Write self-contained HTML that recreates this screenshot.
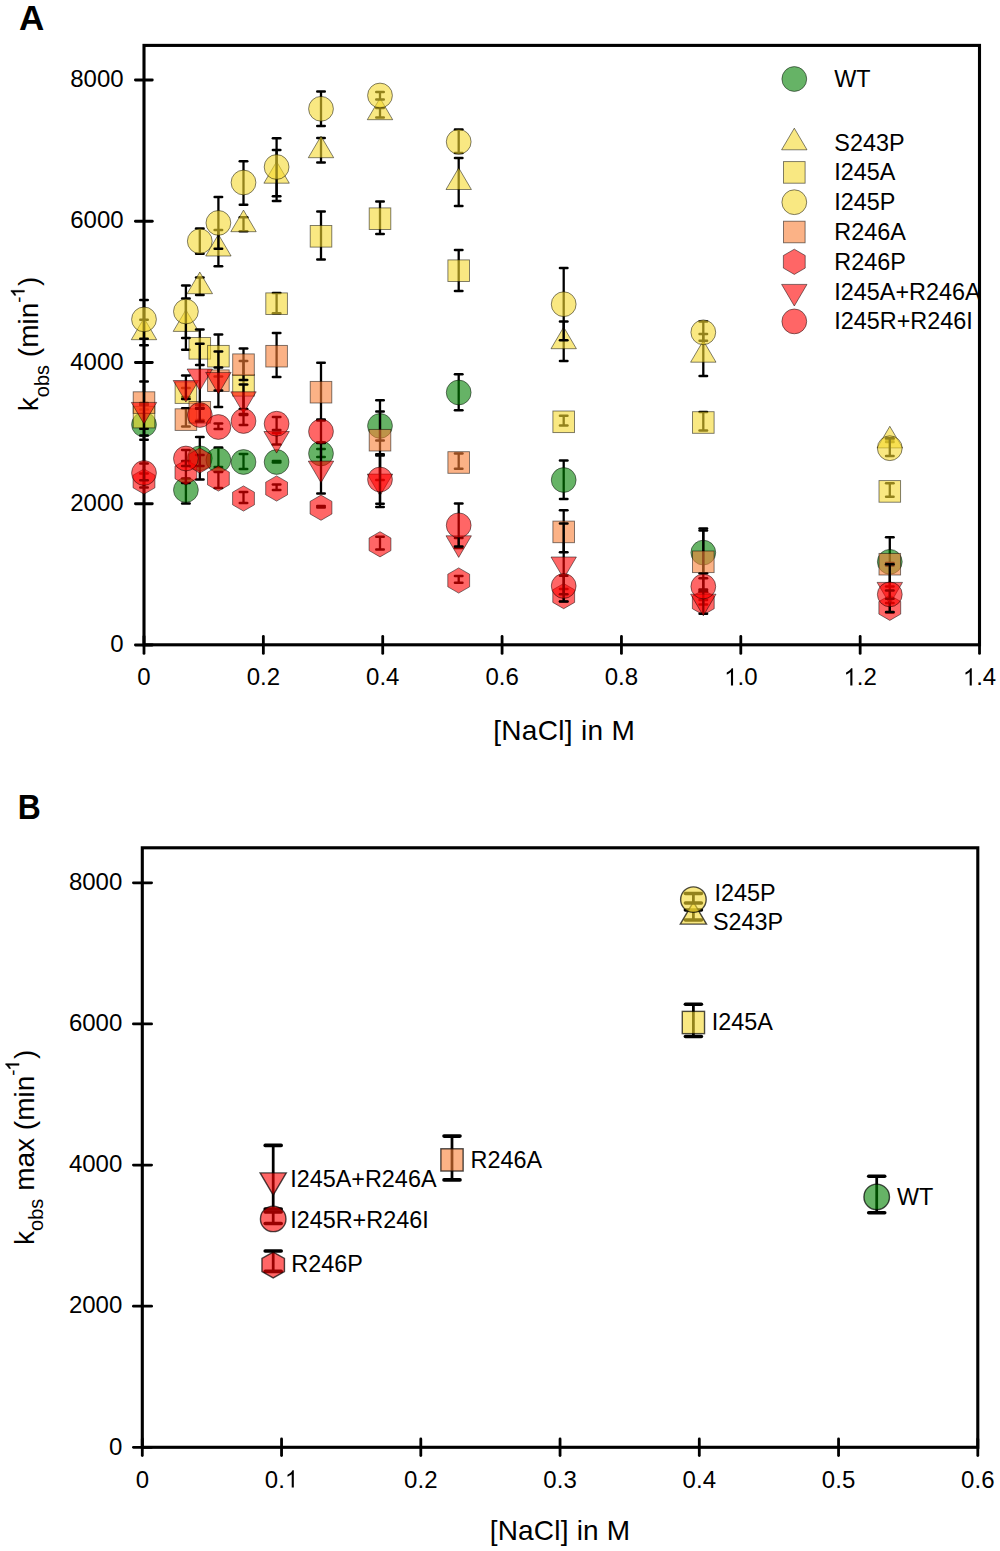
<!DOCTYPE html>
<html><head><meta charset="utf-8"><title>Figure</title><style>html,body{margin:0;padding:0;background:#fff;}body{width:1000px;height:1551px;overflow:hidden;font-family:"Liberation Sans",sans-serif;}svg{display:block;}</style></head><body>
<svg width="1000" height="1551" viewBox="0 0 1000 1551" font-family='&quot;Liberation Sans&quot;, sans-serif' fill="#000"><rect x="144.00" y="45.40" width="835.50" height="599.40" fill="none" stroke="#000" stroke-width="3.1"/>
<line x1="135.4" y1="645.00" x2="152.3" y2="645.00" stroke="#000" stroke-width="2.8" stroke-linecap="round"/>
<text x="123.60" y="652.20" font-size="24.00" text-anchor="end" font-weight="normal" >0</text>
<line x1="135.4" y1="503.75" x2="152.3" y2="503.75" stroke="#000" stroke-width="2.8" stroke-linecap="round"/>
<text x="123.60" y="510.95" font-size="24.00" text-anchor="end" font-weight="normal" >2000</text>
<line x1="135.4" y1="362.50" x2="152.3" y2="362.50" stroke="#000" stroke-width="2.8" stroke-linecap="round"/>
<text x="123.60" y="369.70" font-size="24.00" text-anchor="end" font-weight="normal" >4000</text>
<line x1="135.4" y1="221.25" x2="152.3" y2="221.25" stroke="#000" stroke-width="2.8" stroke-linecap="round"/>
<text x="123.60" y="228.45" font-size="24.00" text-anchor="end" font-weight="normal" >6000</text>
<line x1="135.4" y1="80.00" x2="152.3" y2="80.00" stroke="#000" stroke-width="2.8" stroke-linecap="round"/>
<text x="123.60" y="87.20" font-size="24.00" text-anchor="end" font-weight="normal" >8000</text>
<line x1="144.00" y1="636.4" x2="144.00" y2="653.4" stroke="#000" stroke-width="2.8" stroke-linecap="round"/>
<text x="137.33" y="685.40" font-size="24.00" >0</text>
<line x1="263.36" y1="636.4" x2="263.36" y2="653.4" stroke="#000" stroke-width="2.8" stroke-linecap="round"/>
<text x="246.68" y="685.40" font-size="24.00" >0.2</text>
<line x1="382.72" y1="636.4" x2="382.72" y2="653.4" stroke="#000" stroke-width="2.8" stroke-linecap="round"/>
<text x="366.04" y="685.40" font-size="24.00" >0.4</text>
<line x1="502.08" y1="636.4" x2="502.08" y2="653.4" stroke="#000" stroke-width="2.8" stroke-linecap="round"/>
<text x="485.40" y="685.40" font-size="24.00" >0.6</text>
<line x1="621.44" y1="636.4" x2="621.44" y2="653.4" stroke="#000" stroke-width="2.8" stroke-linecap="round"/>
<text x="604.76" y="685.40" font-size="24.00" >0.8</text>
<line x1="740.80" y1="636.4" x2="740.80" y2="653.4" stroke="#000" stroke-width="2.8" stroke-linecap="round"/>
<path transform="translate(724.12,685.40) scale(0.011719,-0.011719)" d="M763 0L583 0L583 1147Q518 1085 412.5 1023Q307 961 223 930L223 1104Q374 1175 487 1276Q600 1377 647 1472L763 1472Z"/><text x="737.47" y="685.40" font-size="24.00" >.0</text>
<line x1="860.16" y1="636.4" x2="860.16" y2="653.4" stroke="#000" stroke-width="2.8" stroke-linecap="round"/>
<path transform="translate(843.48,685.40) scale(0.011719,-0.011719)" d="M763 0L583 0L583 1147Q518 1085 412.5 1023Q307 961 223 930L223 1104Q374 1175 487 1276Q600 1377 647 1472L763 1472Z"/><text x="856.83" y="685.40" font-size="24.00" >.2</text>
<line x1="979.52" y1="636.4" x2="979.52" y2="653.4" stroke="#000" stroke-width="2.8" stroke-linecap="round"/>
<path transform="translate(962.84,685.40) scale(0.011719,-0.011719)" d="M763 0L583 0L583 1147Q518 1085 412.5 1023Q307 961 223 930L223 1104Q374 1175 487 1276Q600 1377 647 1472L763 1472Z"/><text x="976.19" y="685.40" font-size="24.00" >.4</text>
<text x="564.20" y="740.30" font-size="28.00" text-anchor="middle" font-weight="normal" letter-spacing="0.33">[NaCl] in M</text>
<g transform="translate(38.3,411.2) rotate(-90)"><text x="0.00" y="0.00" font-size="28.00" >k</text><text x="14.00" y="10.20" font-size="20.00" >obs</text><text x="46.25" y="0.00" font-size="28.00" >&#160;(min</text><text x="108.47" y="-13.66" font-size="18.60" >-</text><path transform="translate(113.86,-13.95) scale(0.009082,-0.009082)" stroke="#000" stroke-width="55.1" d="M763 0L583 0L583 1147Q518 1085 412.5 1023Q307 961 223 930L223 1104Q374 1175 487 1276Q600 1377 647 1472L763 1472Z"/><text x="125.21" y="0.00" font-size="28.00" >)</text></g>
<text x="19.00" y="30.00" font-size="35.00" text-anchor="start" font-weight="bold" >A</text>
<line x1="144.00" y1="409.40" x2="144.00" y2="439.80" stroke="#000" stroke-width="2.30"/><line x1="140.25" y1="409.40" x2="147.75" y2="409.40" stroke="#000" stroke-width="2.50" stroke-linecap="round"/><line x1="140.25" y1="439.80" x2="147.75" y2="439.80" stroke="#000" stroke-width="2.50" stroke-linecap="round"/>
<line x1="185.90" y1="478.50" x2="185.90" y2="503.50" stroke="#000" stroke-width="2.30"/><line x1="182.15" y1="478.50" x2="189.65" y2="478.50" stroke="#000" stroke-width="2.50" stroke-linecap="round"/><line x1="182.15" y1="503.50" x2="189.65" y2="503.50" stroke="#000" stroke-width="2.50" stroke-linecap="round"/>
<line x1="199.80" y1="437.00" x2="199.80" y2="479.50" stroke="#000" stroke-width="2.30"/><line x1="196.05" y1="437.00" x2="203.55" y2="437.00" stroke="#000" stroke-width="2.50" stroke-linecap="round"/><line x1="196.05" y1="479.50" x2="203.55" y2="479.50" stroke="#000" stroke-width="2.50" stroke-linecap="round"/>
<line x1="218.40" y1="447.50" x2="218.40" y2="467.00" stroke="#000" stroke-width="2.30"/><line x1="214.65" y1="447.50" x2="222.15" y2="447.50" stroke="#000" stroke-width="2.50" stroke-linecap="round"/><line x1="214.65" y1="467.00" x2="222.15" y2="467.00" stroke="#000" stroke-width="2.50" stroke-linecap="round"/>
<line x1="243.50" y1="454.00" x2="243.50" y2="469.00" stroke="#000" stroke-width="2.30"/><line x1="239.75" y1="454.00" x2="247.25" y2="454.00" stroke="#000" stroke-width="2.50" stroke-linecap="round"/><line x1="239.75" y1="469.00" x2="247.25" y2="469.00" stroke="#000" stroke-width="2.50" stroke-linecap="round"/>
<line x1="276.60" y1="461.00" x2="276.60" y2="462.50" stroke="#000" stroke-width="2.30"/><line x1="272.85" y1="461.00" x2="280.35" y2="461.00" stroke="#000" stroke-width="2.50" stroke-linecap="round"/><line x1="272.85" y1="462.50" x2="280.35" y2="462.50" stroke="#000" stroke-width="2.50" stroke-linecap="round"/>
<line x1="321.00" y1="449.00" x2="321.00" y2="457.00" stroke="#000" stroke-width="2.30"/><line x1="317.25" y1="449.00" x2="324.75" y2="449.00" stroke="#000" stroke-width="2.50" stroke-linecap="round"/><line x1="317.25" y1="457.00" x2="324.75" y2="457.00" stroke="#000" stroke-width="2.50" stroke-linecap="round"/>
<line x1="380.00" y1="411.40" x2="380.00" y2="440.40" stroke="#000" stroke-width="2.30"/><line x1="376.25" y1="411.40" x2="383.75" y2="411.40" stroke="#000" stroke-width="2.50" stroke-linecap="round"/><line x1="376.25" y1="440.40" x2="383.75" y2="440.40" stroke="#000" stroke-width="2.50" stroke-linecap="round"/>
<line x1="458.70" y1="374.20" x2="458.70" y2="410.30" stroke="#000" stroke-width="2.30"/><line x1="454.95" y1="374.20" x2="462.45" y2="374.20" stroke="#000" stroke-width="2.50" stroke-linecap="round"/><line x1="454.95" y1="410.30" x2="462.45" y2="410.30" stroke="#000" stroke-width="2.50" stroke-linecap="round"/>
<line x1="563.70" y1="460.40" x2="563.70" y2="498.90" stroke="#000" stroke-width="2.30"/><line x1="559.95" y1="460.40" x2="567.45" y2="460.40" stroke="#000" stroke-width="2.50" stroke-linecap="round"/><line x1="559.95" y1="498.90" x2="567.45" y2="498.90" stroke="#000" stroke-width="2.50" stroke-linecap="round"/>
<line x1="703.30" y1="528.40" x2="703.30" y2="573.30" stroke="#000" stroke-width="2.30"/><line x1="699.55" y1="528.40" x2="707.05" y2="528.40" stroke="#000" stroke-width="2.50" stroke-linecap="round"/><line x1="699.55" y1="573.30" x2="707.05" y2="573.30" stroke="#000" stroke-width="2.50" stroke-linecap="round"/>
<line x1="889.80" y1="537.20" x2="889.80" y2="586.40" stroke="#000" stroke-width="2.30"/><line x1="886.05" y1="537.20" x2="893.55" y2="537.20" stroke="#000" stroke-width="2.50" stroke-linecap="round"/><line x1="886.05" y1="586.40" x2="893.55" y2="586.40" stroke="#000" stroke-width="2.50" stroke-linecap="round"/>
<circle cx="144.00" cy="424.60" r="12.40" fill="rgb(0,128,0)" fill-opacity="0.60" stroke="rgba(0,0,0,0.55)" stroke-width="0.90"/>
<circle cx="185.90" cy="490.00" r="12.40" fill="rgb(0,128,0)" fill-opacity="0.60" stroke="rgba(0,0,0,0.55)" stroke-width="0.90"/>
<circle cx="199.80" cy="458.30" r="12.40" fill="rgb(0,128,0)" fill-opacity="0.60" stroke="rgba(0,0,0,0.55)" stroke-width="0.90"/>
<circle cx="218.40" cy="460.00" r="12.40" fill="rgb(0,128,0)" fill-opacity="0.60" stroke="rgba(0,0,0,0.55)" stroke-width="0.90"/>
<circle cx="243.50" cy="462.00" r="12.40" fill="rgb(0,128,0)" fill-opacity="0.60" stroke="rgba(0,0,0,0.55)" stroke-width="0.90"/>
<circle cx="276.60" cy="462.00" r="12.40" fill="rgb(0,128,0)" fill-opacity="0.60" stroke="rgba(0,0,0,0.55)" stroke-width="0.90"/>
<circle cx="321.00" cy="453.50" r="12.40" fill="rgb(0,128,0)" fill-opacity="0.60" stroke="rgba(0,0,0,0.55)" stroke-width="0.90"/>
<circle cx="380.00" cy="425.90" r="12.40" fill="rgb(0,128,0)" fill-opacity="0.60" stroke="rgba(0,0,0,0.55)" stroke-width="0.90"/>
<circle cx="458.70" cy="392.50" r="12.40" fill="rgb(0,128,0)" fill-opacity="0.60" stroke="rgba(0,0,0,0.55)" stroke-width="0.90"/>
<circle cx="563.70" cy="480.00" r="12.40" fill="rgb(0,128,0)" fill-opacity="0.60" stroke="rgba(0,0,0,0.55)" stroke-width="0.90"/>
<circle cx="703.30" cy="552.60" r="12.40" fill="rgb(0,128,0)" fill-opacity="0.60" stroke="rgba(0,0,0,0.55)" stroke-width="0.90"/>
<circle cx="889.80" cy="561.80" r="12.40" fill="rgb(0,128,0)" fill-opacity="0.60" stroke="rgba(0,0,0,0.55)" stroke-width="0.90"/>
<line x1="144.00" y1="319.80" x2="144.00" y2="345.20" stroke="#000" stroke-width="2.30"/><line x1="140.25" y1="319.80" x2="147.75" y2="319.80" stroke="#000" stroke-width="2.50" stroke-linecap="round"/><line x1="140.25" y1="345.20" x2="147.75" y2="345.20" stroke="#000" stroke-width="2.50" stroke-linecap="round"/>
<line x1="185.90" y1="298.60" x2="185.90" y2="349.70" stroke="#000" stroke-width="2.30"/><line x1="182.15" y1="298.60" x2="189.65" y2="298.60" stroke="#000" stroke-width="2.50" stroke-linecap="round"/><line x1="182.15" y1="349.70" x2="189.65" y2="349.70" stroke="#000" stroke-width="2.50" stroke-linecap="round"/>
<line x1="199.80" y1="277.50" x2="199.80" y2="295.00" stroke="#000" stroke-width="2.30"/><line x1="196.05" y1="277.50" x2="203.55" y2="277.50" stroke="#000" stroke-width="2.50" stroke-linecap="round"/><line x1="196.05" y1="295.00" x2="203.55" y2="295.00" stroke="#000" stroke-width="2.50" stroke-linecap="round"/>
<line x1="218.40" y1="230.00" x2="218.40" y2="266.30" stroke="#000" stroke-width="2.30"/><line x1="214.65" y1="230.00" x2="222.15" y2="230.00" stroke="#000" stroke-width="2.50" stroke-linecap="round"/><line x1="214.65" y1="266.30" x2="222.15" y2="266.30" stroke="#000" stroke-width="2.50" stroke-linecap="round"/>
<line x1="243.50" y1="217.30" x2="243.50" y2="231.30" stroke="#000" stroke-width="2.30"/><line x1="239.75" y1="217.30" x2="247.25" y2="217.30" stroke="#000" stroke-width="2.50" stroke-linecap="round"/><line x1="239.75" y1="231.30" x2="247.25" y2="231.30" stroke="#000" stroke-width="2.50" stroke-linecap="round"/>
<line x1="276.60" y1="150.10" x2="276.60" y2="200.90" stroke="#000" stroke-width="2.30"/><line x1="272.85" y1="150.10" x2="280.35" y2="150.10" stroke="#000" stroke-width="2.50" stroke-linecap="round"/><line x1="272.85" y1="200.90" x2="280.35" y2="200.90" stroke="#000" stroke-width="2.50" stroke-linecap="round"/>
<line x1="321.00" y1="138.00" x2="321.00" y2="162.40" stroke="#000" stroke-width="2.30"/><line x1="317.25" y1="138.00" x2="324.75" y2="138.00" stroke="#000" stroke-width="2.50" stroke-linecap="round"/><line x1="317.25" y1="162.40" x2="324.75" y2="162.40" stroke="#000" stroke-width="2.50" stroke-linecap="round"/>
<line x1="380.00" y1="108.00" x2="380.00" y2="117.60" stroke="#000" stroke-width="2.30"/><line x1="376.25" y1="108.00" x2="383.75" y2="108.00" stroke="#000" stroke-width="2.50" stroke-linecap="round"/><line x1="376.25" y1="117.60" x2="383.75" y2="117.60" stroke="#000" stroke-width="2.50" stroke-linecap="round"/>
<line x1="458.70" y1="158.00" x2="458.70" y2="206.00" stroke="#000" stroke-width="2.30"/><line x1="454.95" y1="158.00" x2="462.45" y2="158.00" stroke="#000" stroke-width="2.50" stroke-linecap="round"/><line x1="454.95" y1="206.00" x2="462.45" y2="206.00" stroke="#000" stroke-width="2.50" stroke-linecap="round"/>
<line x1="563.70" y1="321.60" x2="563.70" y2="361.00" stroke="#000" stroke-width="2.30"/><line x1="559.95" y1="321.60" x2="567.45" y2="321.60" stroke="#000" stroke-width="2.50" stroke-linecap="round"/><line x1="559.95" y1="361.00" x2="567.45" y2="361.00" stroke="#000" stroke-width="2.50" stroke-linecap="round"/>
<line x1="703.30" y1="334.00" x2="703.30" y2="376.00" stroke="#000" stroke-width="2.30"/><line x1="699.55" y1="334.00" x2="707.05" y2="334.00" stroke="#000" stroke-width="2.50" stroke-linecap="round"/><line x1="699.55" y1="376.00" x2="707.05" y2="376.00" stroke="#000" stroke-width="2.50" stroke-linecap="round"/>
<line x1="889.80" y1="439.50" x2="889.80" y2="442.00" stroke="#000" stroke-width="2.30"/><line x1="886.05" y1="439.50" x2="893.55" y2="439.50" stroke="#000" stroke-width="2.50" stroke-linecap="round"/><line x1="886.05" y1="442.00" x2="893.55" y2="442.00" stroke="#000" stroke-width="2.50" stroke-linecap="round"/>
<polygon points="144.00,318.10 156.70,339.70 131.30,339.70" fill="rgb(245,217,47)" fill-opacity="0.60" stroke="rgba(0,0,0,0.55)" stroke-width="0.90"/>
<polygon points="185.90,309.80 198.60,331.40 173.20,331.40" fill="rgb(245,217,47)" fill-opacity="0.60" stroke="rgba(0,0,0,0.55)" stroke-width="0.90"/>
<polygon points="199.80,272.10 212.50,293.70 187.10,293.70" fill="rgb(245,217,47)" fill-opacity="0.60" stroke="rgba(0,0,0,0.55)" stroke-width="0.90"/>
<polygon points="218.40,234.40 231.10,256.00 205.70,256.00" fill="rgb(245,217,47)" fill-opacity="0.60" stroke="rgba(0,0,0,0.55)" stroke-width="0.90"/>
<polygon points="243.50,210.10 256.20,231.70 230.80,231.70" fill="rgb(245,217,47)" fill-opacity="0.60" stroke="rgba(0,0,0,0.55)" stroke-width="0.90"/>
<polygon points="276.60,161.60 289.30,183.20 263.90,183.20" fill="rgb(245,217,47)" fill-opacity="0.60" stroke="rgba(0,0,0,0.55)" stroke-width="0.90"/>
<polygon points="321.00,136.10 333.70,157.70 308.30,157.70" fill="rgb(245,217,47)" fill-opacity="0.60" stroke="rgba(0,0,0,0.55)" stroke-width="0.90"/>
<polygon points="380.00,98.10 392.70,119.70 367.30,119.70" fill="rgb(245,217,47)" fill-opacity="0.60" stroke="rgba(0,0,0,0.55)" stroke-width="0.90"/>
<polygon points="458.70,167.90 471.40,189.50 446.00,189.50" fill="rgb(245,217,47)" fill-opacity="0.60" stroke="rgba(0,0,0,0.55)" stroke-width="0.90"/>
<polygon points="563.70,327.10 576.40,348.70 551.00,348.70" fill="rgb(245,217,47)" fill-opacity="0.60" stroke="rgba(0,0,0,0.55)" stroke-width="0.90"/>
<polygon points="703.30,340.60 716.00,362.20 690.60,362.20" fill="rgb(245,217,47)" fill-opacity="0.60" stroke="rgba(0,0,0,0.55)" stroke-width="0.90"/>
<polygon points="889.80,426.30 902.50,447.90 877.10,447.90" fill="rgb(245,217,47)" fill-opacity="0.60" stroke="rgba(0,0,0,0.55)" stroke-width="0.90"/>
<line x1="144.00" y1="405.10" x2="144.00" y2="428.80" stroke="#000" stroke-width="2.30"/><line x1="140.25" y1="405.10" x2="147.75" y2="405.10" stroke="#000" stroke-width="2.50" stroke-linecap="round"/><line x1="140.25" y1="428.80" x2="147.75" y2="428.80" stroke="#000" stroke-width="2.50" stroke-linecap="round"/>
<line x1="185.90" y1="388.00" x2="185.90" y2="397.00" stroke="#000" stroke-width="2.30"/><line x1="182.15" y1="388.00" x2="189.65" y2="388.00" stroke="#000" stroke-width="2.50" stroke-linecap="round"/><line x1="182.15" y1="397.00" x2="189.65" y2="397.00" stroke="#000" stroke-width="2.50" stroke-linecap="round"/>
<line x1="199.80" y1="329.40" x2="199.80" y2="365.00" stroke="#000" stroke-width="2.30"/><line x1="196.05" y1="329.40" x2="203.55" y2="329.40" stroke="#000" stroke-width="2.50" stroke-linecap="round"/><line x1="196.05" y1="365.00" x2="203.55" y2="365.00" stroke="#000" stroke-width="2.50" stroke-linecap="round"/>
<line x1="218.40" y1="334.50" x2="218.40" y2="376.50" stroke="#000" stroke-width="2.30"/><line x1="214.65" y1="334.50" x2="222.15" y2="334.50" stroke="#000" stroke-width="2.50" stroke-linecap="round"/><line x1="214.65" y1="376.50" x2="222.15" y2="376.50" stroke="#000" stroke-width="2.50" stroke-linecap="round"/>
<line x1="243.50" y1="361.00" x2="243.50" y2="409.00" stroke="#000" stroke-width="2.30"/><line x1="239.75" y1="361.00" x2="247.25" y2="361.00" stroke="#000" stroke-width="2.50" stroke-linecap="round"/><line x1="239.75" y1="409.00" x2="247.25" y2="409.00" stroke="#000" stroke-width="2.50" stroke-linecap="round"/>
<line x1="276.60" y1="292.90" x2="276.60" y2="313.20" stroke="#000" stroke-width="2.30"/><line x1="272.85" y1="292.90" x2="280.35" y2="292.90" stroke="#000" stroke-width="2.50" stroke-linecap="round"/><line x1="272.85" y1="313.20" x2="280.35" y2="313.20" stroke="#000" stroke-width="2.50" stroke-linecap="round"/>
<line x1="321.00" y1="211.60" x2="321.00" y2="259.60" stroke="#000" stroke-width="2.30"/><line x1="317.25" y1="211.60" x2="324.75" y2="211.60" stroke="#000" stroke-width="2.50" stroke-linecap="round"/><line x1="317.25" y1="259.60" x2="324.75" y2="259.60" stroke="#000" stroke-width="2.50" stroke-linecap="round"/>
<line x1="380.00" y1="201.60" x2="380.00" y2="234.00" stroke="#000" stroke-width="2.30"/><line x1="376.25" y1="201.60" x2="383.75" y2="201.60" stroke="#000" stroke-width="2.50" stroke-linecap="round"/><line x1="376.25" y1="234.00" x2="383.75" y2="234.00" stroke="#000" stroke-width="2.50" stroke-linecap="round"/>
<line x1="458.70" y1="250.00" x2="458.70" y2="291.00" stroke="#000" stroke-width="2.30"/><line x1="454.95" y1="250.00" x2="462.45" y2="250.00" stroke="#000" stroke-width="2.50" stroke-linecap="round"/><line x1="454.95" y1="291.00" x2="462.45" y2="291.00" stroke="#000" stroke-width="2.50" stroke-linecap="round"/>
<line x1="563.70" y1="415.80" x2="563.70" y2="425.40" stroke="#000" stroke-width="2.30"/><line x1="559.95" y1="415.80" x2="567.45" y2="415.80" stroke="#000" stroke-width="2.50" stroke-linecap="round"/><line x1="559.95" y1="425.40" x2="567.45" y2="425.40" stroke="#000" stroke-width="2.50" stroke-linecap="round"/>
<line x1="703.30" y1="411.90" x2="703.30" y2="430.40" stroke="#000" stroke-width="2.30"/><line x1="699.55" y1="411.90" x2="707.05" y2="411.90" stroke="#000" stroke-width="2.50" stroke-linecap="round"/><line x1="699.55" y1="430.40" x2="707.05" y2="430.40" stroke="#000" stroke-width="2.50" stroke-linecap="round"/>
<line x1="889.80" y1="483.30" x2="889.80" y2="496.70" stroke="#000" stroke-width="2.30"/><line x1="886.05" y1="483.30" x2="893.55" y2="483.30" stroke="#000" stroke-width="2.50" stroke-linecap="round"/><line x1="886.05" y1="496.70" x2="893.55" y2="496.70" stroke="#000" stroke-width="2.50" stroke-linecap="round"/>
<rect x="133.20" y="406.30" width="21.60" height="21.60" fill="rgb(245,217,47)" fill-opacity="0.60" stroke="rgba(0,0,0,0.55)" stroke-width="0.90"/>
<rect x="175.10" y="381.80" width="21.60" height="21.60" fill="rgb(245,217,47)" fill-opacity="0.60" stroke="rgba(0,0,0,0.55)" stroke-width="0.90"/>
<rect x="189.00" y="337.50" width="21.60" height="21.60" fill="rgb(245,217,47)" fill-opacity="0.60" stroke="rgba(0,0,0,0.55)" stroke-width="0.90"/>
<rect x="207.60" y="345.40" width="21.60" height="21.60" fill="rgb(245,217,47)" fill-opacity="0.60" stroke="rgba(0,0,0,0.55)" stroke-width="0.90"/>
<rect x="232.70" y="374.50" width="21.60" height="21.60" fill="rgb(245,217,47)" fill-opacity="0.60" stroke="rgba(0,0,0,0.55)" stroke-width="0.90"/>
<rect x="265.80" y="292.90" width="21.60" height="21.60" fill="rgb(245,217,47)" fill-opacity="0.60" stroke="rgba(0,0,0,0.55)" stroke-width="0.90"/>
<rect x="310.20" y="225.50" width="21.60" height="21.60" fill="rgb(245,217,47)" fill-opacity="0.60" stroke="rgba(0,0,0,0.55)" stroke-width="0.90"/>
<rect x="369.20" y="207.90" width="21.60" height="21.60" fill="rgb(245,217,47)" fill-opacity="0.60" stroke="rgba(0,0,0,0.55)" stroke-width="0.90"/>
<rect x="447.90" y="259.90" width="21.60" height="21.60" fill="rgb(245,217,47)" fill-opacity="0.60" stroke="rgba(0,0,0,0.55)" stroke-width="0.90"/>
<rect x="552.90" y="411.00" width="21.60" height="21.60" fill="rgb(245,217,47)" fill-opacity="0.60" stroke="rgba(0,0,0,0.55)" stroke-width="0.90"/>
<rect x="692.50" y="411.70" width="21.60" height="21.60" fill="rgb(245,217,47)" fill-opacity="0.60" stroke="rgba(0,0,0,0.55)" stroke-width="0.90"/>
<rect x="879.00" y="480.60" width="21.60" height="21.60" fill="rgb(245,217,47)" fill-opacity="0.60" stroke="rgba(0,0,0,0.55)" stroke-width="0.90"/>
<line x1="144.00" y1="300.00" x2="144.00" y2="338.80" stroke="#000" stroke-width="2.30"/><line x1="140.25" y1="300.00" x2="147.75" y2="300.00" stroke="#000" stroke-width="2.50" stroke-linecap="round"/><line x1="140.25" y1="338.80" x2="147.75" y2="338.80" stroke="#000" stroke-width="2.50" stroke-linecap="round"/>
<line x1="185.90" y1="285.40" x2="185.90" y2="338.00" stroke="#000" stroke-width="2.30"/><line x1="182.15" y1="285.40" x2="189.65" y2="285.40" stroke="#000" stroke-width="2.50" stroke-linecap="round"/><line x1="182.15" y1="338.00" x2="189.65" y2="338.00" stroke="#000" stroke-width="2.50" stroke-linecap="round"/>
<line x1="199.80" y1="228.50" x2="199.80" y2="253.70" stroke="#000" stroke-width="2.30"/><line x1="196.05" y1="228.50" x2="203.55" y2="228.50" stroke="#000" stroke-width="2.50" stroke-linecap="round"/><line x1="196.05" y1="253.70" x2="203.55" y2="253.70" stroke="#000" stroke-width="2.50" stroke-linecap="round"/>
<line x1="218.40" y1="197.00" x2="218.40" y2="248.80" stroke="#000" stroke-width="2.30"/><line x1="214.65" y1="197.00" x2="222.15" y2="197.00" stroke="#000" stroke-width="2.50" stroke-linecap="round"/><line x1="214.65" y1="248.80" x2="222.15" y2="248.80" stroke="#000" stroke-width="2.50" stroke-linecap="round"/>
<line x1="243.50" y1="161.30" x2="243.50" y2="204.70" stroke="#000" stroke-width="2.30"/><line x1="239.75" y1="161.30" x2="247.25" y2="161.30" stroke="#000" stroke-width="2.50" stroke-linecap="round"/><line x1="239.75" y1="204.70" x2="247.25" y2="204.70" stroke="#000" stroke-width="2.50" stroke-linecap="round"/>
<line x1="276.60" y1="138.20" x2="276.60" y2="196.30" stroke="#000" stroke-width="2.30"/><line x1="272.85" y1="138.20" x2="280.35" y2="138.20" stroke="#000" stroke-width="2.50" stroke-linecap="round"/><line x1="272.85" y1="196.30" x2="280.35" y2="196.30" stroke="#000" stroke-width="2.50" stroke-linecap="round"/>
<line x1="321.00" y1="91.60" x2="321.00" y2="125.90" stroke="#000" stroke-width="2.30"/><line x1="317.25" y1="91.60" x2="324.75" y2="91.60" stroke="#000" stroke-width="2.50" stroke-linecap="round"/><line x1="317.25" y1="125.90" x2="324.75" y2="125.90" stroke="#000" stroke-width="2.50" stroke-linecap="round"/>
<line x1="380.00" y1="92.00" x2="380.00" y2="99.60" stroke="#000" stroke-width="2.30"/><line x1="376.25" y1="92.00" x2="383.75" y2="92.00" stroke="#000" stroke-width="2.50" stroke-linecap="round"/><line x1="376.25" y1="99.60" x2="383.75" y2="99.60" stroke="#000" stroke-width="2.50" stroke-linecap="round"/>
<line x1="458.70" y1="129.60" x2="458.70" y2="153.00" stroke="#000" stroke-width="2.30"/><line x1="454.95" y1="129.60" x2="462.45" y2="129.60" stroke="#000" stroke-width="2.50" stroke-linecap="round"/><line x1="454.95" y1="153.00" x2="462.45" y2="153.00" stroke="#000" stroke-width="2.50" stroke-linecap="round"/>
<line x1="563.70" y1="267.90" x2="563.70" y2="340.20" stroke="#000" stroke-width="2.30"/><line x1="559.95" y1="267.90" x2="567.45" y2="267.90" stroke="#000" stroke-width="2.50" stroke-linecap="round"/><line x1="559.95" y1="340.20" x2="567.45" y2="340.20" stroke="#000" stroke-width="2.50" stroke-linecap="round"/>
<line x1="703.30" y1="321.60" x2="703.30" y2="340.70" stroke="#000" stroke-width="2.30"/><line x1="699.55" y1="321.60" x2="707.05" y2="321.60" stroke="#000" stroke-width="2.50" stroke-linecap="round"/><line x1="699.55" y1="340.70" x2="707.05" y2="340.70" stroke="#000" stroke-width="2.50" stroke-linecap="round"/>
<line x1="889.80" y1="438.30" x2="889.80" y2="456.00" stroke="#000" stroke-width="2.30"/><line x1="886.05" y1="438.30" x2="893.55" y2="438.30" stroke="#000" stroke-width="2.50" stroke-linecap="round"/><line x1="886.05" y1="456.00" x2="893.55" y2="456.00" stroke="#000" stroke-width="2.50" stroke-linecap="round"/>
<circle cx="144.00" cy="319.40" r="12.40" fill="rgb(245,217,47)" fill-opacity="0.60" stroke="rgba(0,0,0,0.55)" stroke-width="0.90"/>
<circle cx="185.90" cy="311.50" r="12.40" fill="rgb(245,217,47)" fill-opacity="0.60" stroke="rgba(0,0,0,0.55)" stroke-width="0.90"/>
<circle cx="199.80" cy="241.20" r="12.40" fill="rgb(245,217,47)" fill-opacity="0.60" stroke="rgba(0,0,0,0.55)" stroke-width="0.90"/>
<circle cx="218.40" cy="222.90" r="12.40" fill="rgb(245,217,47)" fill-opacity="0.60" stroke="rgba(0,0,0,0.55)" stroke-width="0.90"/>
<circle cx="243.50" cy="182.50" r="12.40" fill="rgb(245,217,47)" fill-opacity="0.60" stroke="rgba(0,0,0,0.55)" stroke-width="0.90"/>
<circle cx="276.60" cy="167.00" r="12.40" fill="rgb(245,217,47)" fill-opacity="0.60" stroke="rgba(0,0,0,0.55)" stroke-width="0.90"/>
<circle cx="321.00" cy="108.80" r="12.40" fill="rgb(245,217,47)" fill-opacity="0.60" stroke="rgba(0,0,0,0.55)" stroke-width="0.90"/>
<circle cx="380.00" cy="95.50" r="12.40" fill="rgb(245,217,47)" fill-opacity="0.60" stroke="rgba(0,0,0,0.55)" stroke-width="0.90"/>
<circle cx="458.70" cy="141.80" r="12.40" fill="rgb(245,217,47)" fill-opacity="0.60" stroke="rgba(0,0,0,0.55)" stroke-width="0.90"/>
<circle cx="563.70" cy="304.20" r="12.40" fill="rgb(245,217,47)" fill-opacity="0.60" stroke="rgba(0,0,0,0.55)" stroke-width="0.90"/>
<circle cx="703.30" cy="332.30" r="12.40" fill="rgb(245,217,47)" fill-opacity="0.60" stroke="rgba(0,0,0,0.55)" stroke-width="0.90"/>
<circle cx="889.80" cy="448.20" r="12.40" fill="rgb(245,217,47)" fill-opacity="0.60" stroke="rgba(0,0,0,0.55)" stroke-width="0.90"/>
<line x1="144.00" y1="403.00" x2="144.00" y2="404.50" stroke="#000" stroke-width="2.30"/><line x1="140.25" y1="403.00" x2="147.75" y2="403.00" stroke="#000" stroke-width="2.50" stroke-linecap="round"/><line x1="140.25" y1="404.50" x2="147.75" y2="404.50" stroke="#000" stroke-width="2.50" stroke-linecap="round"/>
<line x1="185.90" y1="408.30" x2="185.90" y2="426.60" stroke="#000" stroke-width="2.30"/><line x1="182.15" y1="408.30" x2="189.65" y2="408.30" stroke="#000" stroke-width="2.50" stroke-linecap="round"/><line x1="182.15" y1="426.60" x2="189.65" y2="426.60" stroke="#000" stroke-width="2.50" stroke-linecap="round"/>
<line x1="199.80" y1="405.00" x2="199.80" y2="420.00" stroke="#000" stroke-width="2.30"/><line x1="196.05" y1="405.00" x2="203.55" y2="405.00" stroke="#000" stroke-width="2.50" stroke-linecap="round"/><line x1="196.05" y1="420.00" x2="203.55" y2="420.00" stroke="#000" stroke-width="2.50" stroke-linecap="round"/>
<line x1="218.40" y1="351.50" x2="218.40" y2="407.00" stroke="#000" stroke-width="2.30"/><line x1="214.65" y1="351.50" x2="222.15" y2="351.50" stroke="#000" stroke-width="2.50" stroke-linecap="round"/><line x1="214.65" y1="407.00" x2="222.15" y2="407.00" stroke="#000" stroke-width="2.50" stroke-linecap="round"/>
<line x1="243.50" y1="348.50" x2="243.50" y2="380.00" stroke="#000" stroke-width="2.30"/><line x1="239.75" y1="348.50" x2="247.25" y2="348.50" stroke="#000" stroke-width="2.50" stroke-linecap="round"/><line x1="239.75" y1="380.00" x2="247.25" y2="380.00" stroke="#000" stroke-width="2.50" stroke-linecap="round"/>
<line x1="276.60" y1="333.00" x2="276.60" y2="377.00" stroke="#000" stroke-width="2.30"/><line x1="272.85" y1="333.00" x2="280.35" y2="333.00" stroke="#000" stroke-width="2.50" stroke-linecap="round"/><line x1="272.85" y1="377.00" x2="280.35" y2="377.00" stroke="#000" stroke-width="2.50" stroke-linecap="round"/>
<line x1="321.00" y1="362.80" x2="321.00" y2="419.50" stroke="#000" stroke-width="2.30"/><line x1="317.25" y1="362.80" x2="324.75" y2="362.80" stroke="#000" stroke-width="2.50" stroke-linecap="round"/><line x1="317.25" y1="419.50" x2="324.75" y2="419.50" stroke="#000" stroke-width="2.50" stroke-linecap="round"/>
<line x1="380.00" y1="400.30" x2="380.00" y2="480.00" stroke="#000" stroke-width="2.30"/><line x1="376.25" y1="400.30" x2="383.75" y2="400.30" stroke="#000" stroke-width="2.50" stroke-linecap="round"/><line x1="376.25" y1="480.00" x2="383.75" y2="480.00" stroke="#000" stroke-width="2.50" stroke-linecap="round"/>
<line x1="458.70" y1="453.60" x2="458.70" y2="468.80" stroke="#000" stroke-width="2.30"/><line x1="454.95" y1="453.60" x2="462.45" y2="453.60" stroke="#000" stroke-width="2.50" stroke-linecap="round"/><line x1="454.95" y1="468.80" x2="462.45" y2="468.80" stroke="#000" stroke-width="2.50" stroke-linecap="round"/>
<line x1="563.70" y1="510.30" x2="563.70" y2="552.30" stroke="#000" stroke-width="2.30"/><line x1="559.95" y1="510.30" x2="567.45" y2="510.30" stroke="#000" stroke-width="2.50" stroke-linecap="round"/><line x1="559.95" y1="552.30" x2="567.45" y2="552.30" stroke="#000" stroke-width="2.50" stroke-linecap="round"/>
<line x1="703.30" y1="530.40" x2="703.30" y2="592.00" stroke="#000" stroke-width="2.30"/><line x1="699.55" y1="530.40" x2="707.05" y2="530.40" stroke="#000" stroke-width="2.50" stroke-linecap="round"/><line x1="699.55" y1="592.00" x2="707.05" y2="592.00" stroke="#000" stroke-width="2.50" stroke-linecap="round"/>
<line x1="889.80" y1="563.00" x2="889.80" y2="565.50" stroke="#000" stroke-width="2.30"/><line x1="886.05" y1="563.00" x2="893.55" y2="563.00" stroke="#000" stroke-width="2.50" stroke-linecap="round"/><line x1="886.05" y1="565.50" x2="893.55" y2="565.50" stroke="#000" stroke-width="2.50" stroke-linecap="round"/>
<rect x="133.20" y="391.80" width="21.60" height="21.60" fill="rgb(248,127,53)" fill-opacity="0.60" stroke="rgba(0,0,0,0.55)" stroke-width="0.90"/>
<rect x="175.10" y="408.80" width="21.60" height="21.60" fill="rgb(248,127,53)" fill-opacity="0.60" stroke="rgba(0,0,0,0.55)" stroke-width="0.90"/>
<rect x="189.00" y="401.50" width="21.60" height="21.60" fill="rgb(248,127,53)" fill-opacity="0.60" stroke="rgba(0,0,0,0.55)" stroke-width="0.90"/>
<rect x="207.60" y="369.90" width="21.60" height="21.60" fill="rgb(248,127,53)" fill-opacity="0.60" stroke="rgba(0,0,0,0.55)" stroke-width="0.90"/>
<rect x="232.70" y="353.90" width="21.60" height="21.60" fill="rgb(248,127,53)" fill-opacity="0.60" stroke="rgba(0,0,0,0.55)" stroke-width="0.90"/>
<rect x="265.80" y="345.40" width="21.60" height="21.60" fill="rgb(248,127,53)" fill-opacity="0.60" stroke="rgba(0,0,0,0.55)" stroke-width="0.90"/>
<rect x="310.20" y="381.40" width="21.60" height="21.60" fill="rgb(248,127,53)" fill-opacity="0.60" stroke="rgba(0,0,0,0.55)" stroke-width="0.90"/>
<rect x="369.20" y="429.40" width="21.60" height="21.60" fill="rgb(248,127,53)" fill-opacity="0.60" stroke="rgba(0,0,0,0.55)" stroke-width="0.90"/>
<rect x="447.90" y="451.70" width="21.60" height="21.60" fill="rgb(248,127,53)" fill-opacity="0.60" stroke="rgba(0,0,0,0.55)" stroke-width="0.90"/>
<rect x="552.90" y="521.10" width="21.60" height="21.60" fill="rgb(248,127,53)" fill-opacity="0.60" stroke="rgba(0,0,0,0.55)" stroke-width="0.90"/>
<rect x="692.50" y="551.00" width="21.60" height="21.60" fill="rgb(248,127,53)" fill-opacity="0.60" stroke="rgba(0,0,0,0.55)" stroke-width="0.90"/>
<rect x="879.00" y="553.40" width="21.60" height="21.60" fill="rgb(248,127,53)" fill-opacity="0.60" stroke="rgba(0,0,0,0.55)" stroke-width="0.90"/>
<line x1="144.00" y1="473.60" x2="144.00" y2="487.50" stroke="#000" stroke-width="2.30"/><line x1="140.25" y1="473.60" x2="147.75" y2="473.60" stroke="#000" stroke-width="2.50" stroke-linecap="round"/><line x1="140.25" y1="487.50" x2="147.75" y2="487.50" stroke="#000" stroke-width="2.50" stroke-linecap="round"/>
<line x1="185.90" y1="461.00" x2="185.90" y2="483.00" stroke="#000" stroke-width="2.30"/><line x1="182.15" y1="461.00" x2="189.65" y2="461.00" stroke="#000" stroke-width="2.50" stroke-linecap="round"/><line x1="182.15" y1="483.00" x2="189.65" y2="483.00" stroke="#000" stroke-width="2.50" stroke-linecap="round"/>
<line x1="199.80" y1="455.00" x2="199.80" y2="466.00" stroke="#000" stroke-width="2.30"/><line x1="196.05" y1="455.00" x2="203.55" y2="455.00" stroke="#000" stroke-width="2.50" stroke-linecap="round"/><line x1="196.05" y1="466.00" x2="203.55" y2="466.00" stroke="#000" stroke-width="2.50" stroke-linecap="round"/>
<line x1="218.40" y1="472.00" x2="218.40" y2="488.00" stroke="#000" stroke-width="2.30"/><line x1="214.65" y1="472.00" x2="222.15" y2="472.00" stroke="#000" stroke-width="2.50" stroke-linecap="round"/><line x1="214.65" y1="488.00" x2="222.15" y2="488.00" stroke="#000" stroke-width="2.50" stroke-linecap="round"/>
<line x1="243.50" y1="492.00" x2="243.50" y2="503.00" stroke="#000" stroke-width="2.30"/><line x1="239.75" y1="492.00" x2="247.25" y2="492.00" stroke="#000" stroke-width="2.50" stroke-linecap="round"/><line x1="239.75" y1="503.00" x2="247.25" y2="503.00" stroke="#000" stroke-width="2.50" stroke-linecap="round"/>
<line x1="276.60" y1="484.50" x2="276.60" y2="490.00" stroke="#000" stroke-width="2.30"/><line x1="272.85" y1="484.50" x2="280.35" y2="484.50" stroke="#000" stroke-width="2.50" stroke-linecap="round"/><line x1="272.85" y1="490.00" x2="280.35" y2="490.00" stroke="#000" stroke-width="2.50" stroke-linecap="round"/>
<line x1="321.00" y1="506.00" x2="321.00" y2="507.50" stroke="#000" stroke-width="2.30"/><line x1="317.25" y1="506.00" x2="324.75" y2="506.00" stroke="#000" stroke-width="2.50" stroke-linecap="round"/><line x1="317.25" y1="507.50" x2="324.75" y2="507.50" stroke="#000" stroke-width="2.50" stroke-linecap="round"/>
<line x1="380.00" y1="536.80" x2="380.00" y2="549.50" stroke="#000" stroke-width="2.30"/><line x1="376.25" y1="536.80" x2="383.75" y2="536.80" stroke="#000" stroke-width="2.50" stroke-linecap="round"/><line x1="376.25" y1="549.50" x2="383.75" y2="549.50" stroke="#000" stroke-width="2.50" stroke-linecap="round"/>
<line x1="458.70" y1="575.90" x2="458.70" y2="582.80" stroke="#000" stroke-width="2.30"/><line x1="454.95" y1="575.90" x2="462.45" y2="575.90" stroke="#000" stroke-width="2.50" stroke-linecap="round"/><line x1="454.95" y1="582.80" x2="462.45" y2="582.80" stroke="#000" stroke-width="2.50" stroke-linecap="round"/>
<line x1="563.70" y1="588.90" x2="563.70" y2="601.50" stroke="#000" stroke-width="2.30"/><line x1="559.95" y1="588.90" x2="567.45" y2="588.90" stroke="#000" stroke-width="2.50" stroke-linecap="round"/><line x1="559.95" y1="601.50" x2="567.45" y2="601.50" stroke="#000" stroke-width="2.50" stroke-linecap="round"/>
<line x1="703.30" y1="600.00" x2="703.30" y2="604.50" stroke="#000" stroke-width="2.30"/><line x1="699.55" y1="600.00" x2="707.05" y2="600.00" stroke="#000" stroke-width="2.50" stroke-linecap="round"/><line x1="699.55" y1="604.50" x2="707.05" y2="604.50" stroke="#000" stroke-width="2.50" stroke-linecap="round"/>
<line x1="889.80" y1="603.00" x2="889.80" y2="612.60" stroke="#000" stroke-width="2.30"/><line x1="886.05" y1="603.00" x2="893.55" y2="603.00" stroke="#000" stroke-width="2.50" stroke-linecap="round"/><line x1="886.05" y1="612.60" x2="893.55" y2="612.60" stroke="#000" stroke-width="2.50" stroke-linecap="round"/>
<polygon points="144.00,468.90 154.91,475.20 154.91,487.80 144.00,494.10 133.09,487.80 133.09,475.20" fill="rgb(255,0,0)" fill-opacity="0.60" stroke="rgba(0,0,0,0.55)" stroke-width="0.90"/>
<polygon points="185.90,459.80 196.81,466.10 196.81,478.70 185.90,485.00 174.99,478.70 174.99,466.10" fill="rgb(255,0,0)" fill-opacity="0.60" stroke="rgba(0,0,0,0.55)" stroke-width="0.90"/>
<polygon points="199.80,447.90 210.71,454.20 210.71,466.80 199.80,473.10 188.89,466.80 188.89,454.20" fill="rgb(255,0,0)" fill-opacity="0.60" stroke="rgba(0,0,0,0.55)" stroke-width="0.90"/>
<polygon points="218.40,465.90 229.31,472.20 229.31,484.80 218.40,491.10 207.49,484.80 207.49,472.20" fill="rgb(255,0,0)" fill-opacity="0.60" stroke="rgba(0,0,0,0.55)" stroke-width="0.90"/>
<polygon points="243.50,485.90 254.41,492.20 254.41,504.80 243.50,511.10 232.59,504.80 232.59,492.20" fill="rgb(255,0,0)" fill-opacity="0.60" stroke="rgba(0,0,0,0.55)" stroke-width="0.90"/>
<polygon points="276.60,475.90 287.51,482.20 287.51,494.80 276.60,501.10 265.69,494.80 265.69,482.20" fill="rgb(255,0,0)" fill-opacity="0.60" stroke="rgba(0,0,0,0.55)" stroke-width="0.90"/>
<polygon points="321.00,495.10 331.91,501.40 331.91,514.00 321.00,520.30 310.09,514.00 310.09,501.40" fill="rgb(255,0,0)" fill-opacity="0.60" stroke="rgba(0,0,0,0.55)" stroke-width="0.90"/>
<polygon points="380.00,531.70 390.91,538.00 390.91,550.60 380.00,556.90 369.09,550.60 369.09,538.00" fill="rgb(255,0,0)" fill-opacity="0.60" stroke="rgba(0,0,0,0.55)" stroke-width="0.90"/>
<polygon points="458.70,567.90 469.61,574.20 469.61,586.80 458.70,593.10 447.79,586.80 447.79,574.20" fill="rgb(255,0,0)" fill-opacity="0.60" stroke="rgba(0,0,0,0.55)" stroke-width="0.90"/>
<polygon points="563.70,583.50 574.61,589.80 574.61,602.40 563.70,608.70 552.79,602.40 552.79,589.80" fill="rgb(255,0,0)" fill-opacity="0.60" stroke="rgba(0,0,0,0.55)" stroke-width="0.90"/>
<polygon points="703.30,589.80 714.21,596.10 714.21,608.70 703.30,615.00 692.39,608.70 692.39,596.10" fill="rgb(255,0,0)" fill-opacity="0.60" stroke="rgba(0,0,0,0.55)" stroke-width="0.90"/>
<polygon points="889.80,595.20 900.71,601.50 900.71,614.10 889.80,620.40 878.89,614.10 878.89,601.50" fill="rgb(255,0,0)" fill-opacity="0.60" stroke="rgba(0,0,0,0.55)" stroke-width="0.90"/>
<line x1="144.00" y1="381.40" x2="144.00" y2="435.50" stroke="#000" stroke-width="2.30"/><line x1="140.25" y1="381.40" x2="147.75" y2="381.40" stroke="#000" stroke-width="2.50" stroke-linecap="round"/><line x1="140.25" y1="435.50" x2="147.75" y2="435.50" stroke="#000" stroke-width="2.50" stroke-linecap="round"/>
<line x1="185.90" y1="375.40" x2="185.90" y2="399.10" stroke="#000" stroke-width="2.30"/><line x1="182.15" y1="375.40" x2="189.65" y2="375.40" stroke="#000" stroke-width="2.50" stroke-linecap="round"/><line x1="182.15" y1="399.10" x2="189.65" y2="399.10" stroke="#000" stroke-width="2.50" stroke-linecap="round"/>
<line x1="199.80" y1="343.70" x2="199.80" y2="408.70" stroke="#000" stroke-width="2.30"/><line x1="196.05" y1="343.70" x2="203.55" y2="343.70" stroke="#000" stroke-width="2.50" stroke-linecap="round"/><line x1="196.05" y1="408.70" x2="203.55" y2="408.70" stroke="#000" stroke-width="2.50" stroke-linecap="round"/>
<line x1="218.40" y1="367.50" x2="218.40" y2="390.50" stroke="#000" stroke-width="2.30"/><line x1="214.65" y1="367.50" x2="222.15" y2="367.50" stroke="#000" stroke-width="2.50" stroke-linecap="round"/><line x1="214.65" y1="390.50" x2="222.15" y2="390.50" stroke="#000" stroke-width="2.50" stroke-linecap="round"/>
<line x1="243.50" y1="384.50" x2="243.50" y2="414.00" stroke="#000" stroke-width="2.30"/><line x1="239.75" y1="384.50" x2="247.25" y2="384.50" stroke="#000" stroke-width="2.50" stroke-linecap="round"/><line x1="239.75" y1="414.00" x2="247.25" y2="414.00" stroke="#000" stroke-width="2.50" stroke-linecap="round"/>
<line x1="276.60" y1="433.00" x2="276.60" y2="444.50" stroke="#000" stroke-width="2.30"/><line x1="272.85" y1="433.00" x2="280.35" y2="433.00" stroke="#000" stroke-width="2.50" stroke-linecap="round"/><line x1="272.85" y1="444.50" x2="280.35" y2="444.50" stroke="#000" stroke-width="2.50" stroke-linecap="round"/>
<line x1="321.00" y1="443.00" x2="321.00" y2="493.50" stroke="#000" stroke-width="2.30"/><line x1="317.25" y1="443.00" x2="324.75" y2="443.00" stroke="#000" stroke-width="2.50" stroke-linecap="round"/><line x1="317.25" y1="493.50" x2="324.75" y2="493.50" stroke="#000" stroke-width="2.50" stroke-linecap="round"/>
<line x1="380.00" y1="455.50" x2="380.00" y2="507.10" stroke="#000" stroke-width="2.30"/><line x1="376.25" y1="455.50" x2="383.75" y2="455.50" stroke="#000" stroke-width="2.50" stroke-linecap="round"/><line x1="376.25" y1="507.10" x2="383.75" y2="507.10" stroke="#000" stroke-width="2.50" stroke-linecap="round"/>
<line x1="458.70" y1="538.00" x2="458.70" y2="548.00" stroke="#000" stroke-width="2.30"/><line x1="454.95" y1="538.00" x2="462.45" y2="538.00" stroke="#000" stroke-width="2.50" stroke-linecap="round"/><line x1="454.95" y1="548.00" x2="462.45" y2="548.00" stroke="#000" stroke-width="2.50" stroke-linecap="round"/>
<line x1="563.70" y1="523.60" x2="563.70" y2="601.50" stroke="#000" stroke-width="2.30"/><line x1="559.95" y1="523.60" x2="567.45" y2="523.60" stroke="#000" stroke-width="2.50" stroke-linecap="round"/><line x1="559.95" y1="601.50" x2="567.45" y2="601.50" stroke="#000" stroke-width="2.50" stroke-linecap="round"/>
<line x1="703.30" y1="589.50" x2="703.30" y2="613.80" stroke="#000" stroke-width="2.30"/><line x1="699.55" y1="589.50" x2="707.05" y2="589.50" stroke="#000" stroke-width="2.50" stroke-linecap="round"/><line x1="699.55" y1="613.80" x2="707.05" y2="613.80" stroke="#000" stroke-width="2.50" stroke-linecap="round"/>
<line x1="889.80" y1="564.30" x2="889.80" y2="612.00" stroke="#000" stroke-width="2.30"/><line x1="886.05" y1="564.30" x2="893.55" y2="564.30" stroke="#000" stroke-width="2.50" stroke-linecap="round"/><line x1="886.05" y1="612.00" x2="893.55" y2="612.00" stroke="#000" stroke-width="2.50" stroke-linecap="round"/>
<polygon points="144.00,424.00 156.70,402.40 131.30,402.40" fill="rgb(255,0,0)" fill-opacity="0.60" stroke="rgba(0,0,0,0.55)" stroke-width="0.90"/>
<polygon points="185.90,402.10 198.60,380.50 173.20,380.50" fill="rgb(255,0,0)" fill-opacity="0.60" stroke="rgba(0,0,0,0.55)" stroke-width="0.90"/>
<polygon points="199.80,390.60 212.50,369.00 187.10,369.00" fill="rgb(255,0,0)" fill-opacity="0.60" stroke="rgba(0,0,0,0.55)" stroke-width="0.90"/>
<polygon points="218.40,394.00 231.10,372.40 205.70,372.40" fill="rgb(255,0,0)" fill-opacity="0.60" stroke="rgba(0,0,0,0.55)" stroke-width="0.90"/>
<polygon points="243.50,413.40 256.20,391.80 230.80,391.80" fill="rgb(255,0,0)" fill-opacity="0.60" stroke="rgba(0,0,0,0.55)" stroke-width="0.90"/>
<polygon points="276.60,453.10 289.30,431.50 263.90,431.50" fill="rgb(255,0,0)" fill-opacity="0.60" stroke="rgba(0,0,0,0.55)" stroke-width="0.90"/>
<polygon points="321.00,482.70 333.70,461.10 308.30,461.10" fill="rgb(255,0,0)" fill-opacity="0.60" stroke="rgba(0,0,0,0.55)" stroke-width="0.90"/>
<polygon points="380.00,495.70 392.70,474.10 367.30,474.10" fill="rgb(255,0,0)" fill-opacity="0.60" stroke="rgba(0,0,0,0.55)" stroke-width="0.90"/>
<polygon points="458.70,557.40 471.40,535.80 446.00,535.80" fill="rgb(255,0,0)" fill-opacity="0.60" stroke="rgba(0,0,0,0.55)" stroke-width="0.90"/>
<polygon points="563.70,578.60 576.40,557.00 551.00,557.00" fill="rgb(255,0,0)" fill-opacity="0.60" stroke="rgba(0,0,0,0.55)" stroke-width="0.90"/>
<polygon points="703.30,615.80 716.00,594.20 690.60,594.20" fill="rgb(255,0,0)" fill-opacity="0.60" stroke="rgba(0,0,0,0.55)" stroke-width="0.90"/>
<polygon points="889.80,604.00 902.50,582.40 877.10,582.40" fill="rgb(255,0,0)" fill-opacity="0.60" stroke="rgba(0,0,0,0.55)" stroke-width="0.90"/>
<line x1="144.00" y1="463.60" x2="144.00" y2="480.20" stroke="#000" stroke-width="2.30"/><line x1="140.25" y1="463.60" x2="147.75" y2="463.60" stroke="#000" stroke-width="2.50" stroke-linecap="round"/><line x1="140.25" y1="480.20" x2="147.75" y2="480.20" stroke="#000" stroke-width="2.50" stroke-linecap="round"/>
<line x1="185.90" y1="450.00" x2="185.90" y2="466.00" stroke="#000" stroke-width="2.30"/><line x1="182.15" y1="450.00" x2="189.65" y2="450.00" stroke="#000" stroke-width="2.50" stroke-linecap="round"/><line x1="182.15" y1="466.00" x2="189.65" y2="466.00" stroke="#000" stroke-width="2.50" stroke-linecap="round"/>
<line x1="199.80" y1="408.00" x2="199.80" y2="421.50" stroke="#000" stroke-width="2.30"/><line x1="196.05" y1="408.00" x2="203.55" y2="408.00" stroke="#000" stroke-width="2.50" stroke-linecap="round"/><line x1="196.05" y1="421.50" x2="203.55" y2="421.50" stroke="#000" stroke-width="2.50" stroke-linecap="round"/>
<line x1="218.40" y1="423.50" x2="218.40" y2="429.00" stroke="#000" stroke-width="2.30"/><line x1="214.65" y1="423.50" x2="222.15" y2="423.50" stroke="#000" stroke-width="2.50" stroke-linecap="round"/><line x1="214.65" y1="429.00" x2="222.15" y2="429.00" stroke="#000" stroke-width="2.50" stroke-linecap="round"/>
<line x1="243.50" y1="415.00" x2="243.50" y2="425.00" stroke="#000" stroke-width="2.30"/><line x1="239.75" y1="415.00" x2="247.25" y2="415.00" stroke="#000" stroke-width="2.50" stroke-linecap="round"/><line x1="239.75" y1="425.00" x2="247.25" y2="425.00" stroke="#000" stroke-width="2.50" stroke-linecap="round"/>
<line x1="276.60" y1="417.00" x2="276.60" y2="430.00" stroke="#000" stroke-width="2.30"/><line x1="272.85" y1="417.00" x2="280.35" y2="417.00" stroke="#000" stroke-width="2.50" stroke-linecap="round"/><line x1="272.85" y1="430.00" x2="280.35" y2="430.00" stroke="#000" stroke-width="2.50" stroke-linecap="round"/>
<line x1="321.00" y1="420.50" x2="321.00" y2="442.50" stroke="#000" stroke-width="2.30"/><line x1="317.25" y1="420.50" x2="324.75" y2="420.50" stroke="#000" stroke-width="2.50" stroke-linecap="round"/><line x1="317.25" y1="442.50" x2="324.75" y2="442.50" stroke="#000" stroke-width="2.50" stroke-linecap="round"/>
<line x1="380.00" y1="454.30" x2="380.00" y2="503.70" stroke="#000" stroke-width="2.30"/><line x1="376.25" y1="454.30" x2="383.75" y2="454.30" stroke="#000" stroke-width="2.50" stroke-linecap="round"/><line x1="376.25" y1="503.70" x2="383.75" y2="503.70" stroke="#000" stroke-width="2.50" stroke-linecap="round"/>
<line x1="458.70" y1="503.60" x2="458.70" y2="546.50" stroke="#000" stroke-width="2.30"/><line x1="454.95" y1="503.60" x2="462.45" y2="503.60" stroke="#000" stroke-width="2.50" stroke-linecap="round"/><line x1="454.95" y1="546.50" x2="462.45" y2="546.50" stroke="#000" stroke-width="2.50" stroke-linecap="round"/>
<line x1="563.70" y1="575.80" x2="563.70" y2="594.30" stroke="#000" stroke-width="2.30"/><line x1="559.95" y1="575.80" x2="567.45" y2="575.80" stroke="#000" stroke-width="2.50" stroke-linecap="round"/><line x1="559.95" y1="594.30" x2="567.45" y2="594.30" stroke="#000" stroke-width="2.50" stroke-linecap="round"/>
<line x1="703.30" y1="578.20" x2="703.30" y2="591.00" stroke="#000" stroke-width="2.30"/><line x1="699.55" y1="578.20" x2="707.05" y2="578.20" stroke="#000" stroke-width="2.50" stroke-linecap="round"/><line x1="699.55" y1="591.00" x2="707.05" y2="591.00" stroke="#000" stroke-width="2.50" stroke-linecap="round"/>
<line x1="889.80" y1="590.50" x2="889.80" y2="598.70" stroke="#000" stroke-width="2.30"/><line x1="886.05" y1="590.50" x2="893.55" y2="590.50" stroke="#000" stroke-width="2.50" stroke-linecap="round"/><line x1="886.05" y1="598.70" x2="893.55" y2="598.70" stroke="#000" stroke-width="2.50" stroke-linecap="round"/>
<circle cx="144.00" cy="473.00" r="12.40" fill="rgb(255,0,0)" fill-opacity="0.60" stroke="rgba(0,0,0,0.55)" stroke-width="0.90"/>
<circle cx="185.90" cy="458.50" r="12.40" fill="rgb(255,0,0)" fill-opacity="0.60" stroke="rgba(0,0,0,0.55)" stroke-width="0.90"/>
<circle cx="199.80" cy="415.00" r="12.40" fill="rgb(255,0,0)" fill-opacity="0.60" stroke="rgba(0,0,0,0.55)" stroke-width="0.90"/>
<circle cx="218.40" cy="427.00" r="12.40" fill="rgb(255,0,0)" fill-opacity="0.60" stroke="rgba(0,0,0,0.55)" stroke-width="0.90"/>
<circle cx="243.50" cy="421.00" r="12.40" fill="rgb(255,0,0)" fill-opacity="0.60" stroke="rgba(0,0,0,0.55)" stroke-width="0.90"/>
<circle cx="276.60" cy="423.70" r="12.40" fill="rgb(255,0,0)" fill-opacity="0.60" stroke="rgba(0,0,0,0.55)" stroke-width="0.90"/>
<circle cx="321.00" cy="431.50" r="12.40" fill="rgb(255,0,0)" fill-opacity="0.60" stroke="rgba(0,0,0,0.55)" stroke-width="0.90"/>
<circle cx="380.00" cy="479.50" r="12.40" fill="rgb(255,0,0)" fill-opacity="0.60" stroke="rgba(0,0,0,0.55)" stroke-width="0.90"/>
<circle cx="458.70" cy="525.30" r="12.40" fill="rgb(255,0,0)" fill-opacity="0.60" stroke="rgba(0,0,0,0.55)" stroke-width="0.90"/>
<circle cx="563.70" cy="586.00" r="12.40" fill="rgb(255,0,0)" fill-opacity="0.60" stroke="rgba(0,0,0,0.55)" stroke-width="0.90"/>
<circle cx="703.30" cy="586.50" r="12.40" fill="rgb(255,0,0)" fill-opacity="0.60" stroke="rgba(0,0,0,0.55)" stroke-width="0.90"/>
<circle cx="889.80" cy="594.40" r="12.40" fill="rgb(255,0,0)" fill-opacity="0.60" stroke="rgba(0,0,0,0.55)" stroke-width="0.90"/>
<circle cx="794.30" cy="79.00" r="12.40" fill="rgb(0,128,0)" fill-opacity="0.60" stroke="rgba(0,0,0,0.55)" stroke-width="0.90"/>
<text x="834.30" y="87.00" font-size="23.40" text-anchor="start" font-weight="normal" >WT</text>
<polygon points="794.30,128.20 807.00,149.80 781.60,149.80" fill="rgb(245,217,47)" fill-opacity="0.60" stroke="rgba(0,0,0,0.55)" stroke-width="0.90"/>
<text x="834.30" y="150.60" font-size="23.40" text-anchor="start" font-weight="normal" >S243P</text>
<rect x="783.50" y="161.60" width="21.60" height="21.60" fill="rgb(245,217,47)" fill-opacity="0.60" stroke="rgba(0,0,0,0.55)" stroke-width="0.90"/>
<text x="834.30" y="180.40" font-size="23.40" text-anchor="start" font-weight="normal" >I245A</text>
<circle cx="794.30" cy="202.20" r="12.40" fill="rgb(245,217,47)" fill-opacity="0.60" stroke="rgba(0,0,0,0.55)" stroke-width="0.90"/>
<text x="834.30" y="210.20" font-size="23.40" text-anchor="start" font-weight="normal" >I245P</text>
<rect x="783.50" y="221.20" width="21.60" height="21.60" fill="rgb(248,127,53)" fill-opacity="0.60" stroke="rgba(0,0,0,0.55)" stroke-width="0.90"/>
<text x="834.30" y="240.00" font-size="23.40" text-anchor="start" font-weight="normal" >R246A</text>
<polygon points="794.30,249.20 805.21,255.50 805.21,268.10 794.30,274.40 783.39,268.10 783.39,255.50" fill="rgb(255,0,0)" fill-opacity="0.60" stroke="rgba(0,0,0,0.55)" stroke-width="0.90"/>
<text x="834.30" y="269.80" font-size="23.40" text-anchor="start" font-weight="normal" >R246P</text>
<polygon points="794.30,306.00 807.00,284.40 781.60,284.40" fill="rgb(255,0,0)" fill-opacity="0.60" stroke="rgba(0,0,0,0.55)" stroke-width="0.90"/>
<text x="834.30" y="299.60" font-size="23.40" text-anchor="start" font-weight="normal" >I245A+R246A</text>
<circle cx="794.30" cy="321.40" r="12.40" fill="rgb(255,0,0)" fill-opacity="0.60" stroke="rgba(0,0,0,0.55)" stroke-width="0.90"/>
<text x="834.30" y="329.40" font-size="23.40" text-anchor="start" font-weight="normal" >I245R+R246I</text>
<rect x="142.30" y="847.80" width="835.50" height="599.50" fill="none" stroke="#000" stroke-width="3.1"/>
<line x1="133.4" y1="1447.30" x2="151.6" y2="1447.30" stroke="#000" stroke-width="2.8" stroke-linecap="round"/>
<text x="122.30" y="1454.50" font-size="24.00" text-anchor="end" font-weight="normal" >0</text>
<line x1="133.4" y1="1306.18" x2="151.6" y2="1306.18" stroke="#000" stroke-width="2.8" stroke-linecap="round"/>
<text x="122.30" y="1313.38" font-size="24.00" text-anchor="end" font-weight="normal" >2000</text>
<line x1="133.4" y1="1165.06" x2="151.6" y2="1165.06" stroke="#000" stroke-width="2.8" stroke-linecap="round"/>
<text x="122.30" y="1172.26" font-size="24.00" text-anchor="end" font-weight="normal" >4000</text>
<line x1="133.4" y1="1023.94" x2="151.6" y2="1023.94" stroke="#000" stroke-width="2.8" stroke-linecap="round"/>
<text x="122.30" y="1031.14" font-size="24.00" text-anchor="end" font-weight="normal" >6000</text>
<line x1="133.4" y1="882.82" x2="151.6" y2="882.82" stroke="#000" stroke-width="2.8" stroke-linecap="round"/>
<text x="122.30" y="890.02" font-size="24.00" text-anchor="end" font-weight="normal" >8000</text>
<line x1="142.30" y1="1439" x2="142.30" y2="1455.5" stroke="#000" stroke-width="2.8" stroke-linecap="round"/>
<text x="135.63" y="1487.60" font-size="24.00" >0</text>
<line x1="281.55" y1="1439" x2="281.55" y2="1455.5" stroke="#000" stroke-width="2.8" stroke-linecap="round"/>
<text x="264.87" y="1487.60" font-size="24.00" >0.</text><path transform="translate(284.88,1487.60) scale(0.011719,-0.011719)" d="M763 0L583 0L583 1147Q518 1085 412.5 1023Q307 961 223 930L223 1104Q374 1175 487 1276Q600 1377 647 1472L763 1472Z"/>
<line x1="420.80" y1="1439" x2="420.80" y2="1455.5" stroke="#000" stroke-width="2.8" stroke-linecap="round"/>
<text x="404.12" y="1487.60" font-size="24.00" >0.2</text>
<line x1="560.05" y1="1439" x2="560.05" y2="1455.5" stroke="#000" stroke-width="2.8" stroke-linecap="round"/>
<text x="543.37" y="1487.60" font-size="24.00" >0.3</text>
<line x1="699.30" y1="1439" x2="699.30" y2="1455.5" stroke="#000" stroke-width="2.8" stroke-linecap="round"/>
<text x="682.62" y="1487.60" font-size="24.00" >0.4</text>
<line x1="838.55" y1="1439" x2="838.55" y2="1455.5" stroke="#000" stroke-width="2.8" stroke-linecap="round"/>
<text x="821.87" y="1487.60" font-size="24.00" >0.5</text>
<line x1="977.80" y1="1439" x2="977.80" y2="1455.5" stroke="#000" stroke-width="2.8" stroke-linecap="round"/>
<text x="961.12" y="1487.60" font-size="24.00" >0.6</text>
<text x="560.00" y="1540.30" font-size="28.00" text-anchor="middle" font-weight="normal" letter-spacing="0.2">[NaCl] in M</text>
<g transform="translate(33.5,1244.9) rotate(-90)"><text x="0.00" y="0.00" font-size="28.00" >k</text><text x="14.00" y="9.80" font-size="20.00" >obs</text><text x="46.25" y="0.00" font-size="28.00" >&#160;max&#160;(min</text><text x="169.14" y="-14.36" font-size="18.60" >-</text><path transform="translate(174.34,-14.45) scale(0.009082,-0.009082)" stroke="#000" stroke-width="55.1" d="M763 0L583 0L583 1147Q518 1085 412.5 1023Q307 961 223 930L223 1104Q374 1175 487 1276Q600 1377 647 1472L763 1472Z"/><text x="185.88" y="0.00" font-size="28.00" >)</text></g>
<text transform="translate(20,819) scale(0.91,1)" x="-2.5" y="0" font-size="35" font-weight="bold">B</text>
<line x1="876.70" y1="1176.20" x2="876.70" y2="1212.80" stroke="#000" stroke-width="2.75"/><line x1="868.70" y1="1176.20" x2="884.70" y2="1176.20" stroke="#000" stroke-width="3.60" stroke-linecap="round"/><line x1="868.70" y1="1212.80" x2="884.70" y2="1212.80" stroke="#000" stroke-width="3.60" stroke-linecap="round"/>
<circle cx="876.70" cy="1196.90" r="12.77" fill="rgb(0,128,0)" fill-opacity="0.60" stroke="rgba(0,0,0,0.7)" stroke-width="1.40"/>
<line x1="693.40" y1="910.00" x2="693.40" y2="920.00" stroke="#000" stroke-width="2.75"/><line x1="685.40" y1="910.00" x2="701.40" y2="910.00" stroke="#000" stroke-width="3.60" stroke-linecap="round"/><line x1="685.40" y1="920.00" x2="701.40" y2="920.00" stroke="#000" stroke-width="3.60" stroke-linecap="round"/>
<polygon points="693.40,901.87 706.48,924.12 680.32,924.12" fill="rgb(245,217,47)" fill-opacity="0.60" stroke="rgba(0,0,0,0.7)" stroke-width="1.40"/>
<line x1="693.40" y1="1004.25" x2="693.40" y2="1036.50" stroke="#000" stroke-width="2.75"/><line x1="685.40" y1="1004.25" x2="701.40" y2="1004.25" stroke="#000" stroke-width="3.60" stroke-linecap="round"/><line x1="685.40" y1="1036.50" x2="701.40" y2="1036.50" stroke="#000" stroke-width="3.60" stroke-linecap="round"/>
<rect x="682.28" y="1011.38" width="22.25" height="22.25" fill="rgb(245,217,47)" fill-opacity="0.60" stroke="rgba(0,0,0,0.7)" stroke-width="1.40"/>
<line x1="693.40" y1="893.50" x2="693.40" y2="903.00" stroke="#000" stroke-width="2.75"/><line x1="685.40" y1="893.50" x2="701.40" y2="893.50" stroke="#000" stroke-width="3.60" stroke-linecap="round"/><line x1="685.40" y1="903.00" x2="701.40" y2="903.00" stroke="#000" stroke-width="3.60" stroke-linecap="round"/>
<circle cx="693.40" cy="899.60" r="12.77" fill="rgb(245,217,47)" fill-opacity="0.60" stroke="rgba(0,0,0,0.7)" stroke-width="1.40"/>
<line x1="452.00" y1="1136.10" x2="452.00" y2="1179.90" stroke="#000" stroke-width="2.75"/><line x1="444.00" y1="1136.10" x2="460.00" y2="1136.10" stroke="#000" stroke-width="3.60" stroke-linecap="round"/><line x1="444.00" y1="1179.90" x2="460.00" y2="1179.90" stroke="#000" stroke-width="3.60" stroke-linecap="round"/>
<rect x="440.88" y="1148.78" width="22.25" height="22.25" fill="rgb(248,127,53)" fill-opacity="0.60" stroke="rgba(0,0,0,0.7)" stroke-width="1.40"/>
<line x1="273.20" y1="1251.00" x2="273.20" y2="1271.40" stroke="#000" stroke-width="2.75"/><line x1="265.20" y1="1251.00" x2="281.20" y2="1251.00" stroke="#000" stroke-width="3.60" stroke-linecap="round"/><line x1="265.20" y1="1271.40" x2="281.20" y2="1271.40" stroke="#000" stroke-width="3.60" stroke-linecap="round"/>
<polygon points="273.20,1252.02 284.44,1258.51 284.44,1271.49 273.20,1277.98 261.96,1271.49 261.96,1258.51" fill="rgb(255,0,0)" fill-opacity="0.60" stroke="rgba(0,0,0,0.7)" stroke-width="1.40"/>
<line x1="273.20" y1="1145.40" x2="273.20" y2="1209.00" stroke="#000" stroke-width="2.75"/><line x1="265.20" y1="1145.40" x2="281.20" y2="1145.40" stroke="#000" stroke-width="3.60" stroke-linecap="round"/><line x1="265.20" y1="1209.00" x2="281.20" y2="1209.00" stroke="#000" stroke-width="3.60" stroke-linecap="round"/>
<polygon points="273.20,1195.13 286.28,1172.88 260.12,1172.88" fill="rgb(255,0,0)" fill-opacity="0.60" stroke="rgba(0,0,0,0.7)" stroke-width="1.40"/>
<line x1="273.20" y1="1212.00" x2="273.20" y2="1223.50" stroke="#000" stroke-width="2.75"/><line x1="265.20" y1="1212.00" x2="281.20" y2="1212.00" stroke="#000" stroke-width="3.60" stroke-linecap="round"/><line x1="265.20" y1="1223.50" x2="281.20" y2="1223.50" stroke="#000" stroke-width="3.60" stroke-linecap="round"/>
<circle cx="273.20" cy="1218.90" r="12.77" fill="rgb(255,0,0)" fill-opacity="0.60" stroke="rgba(0,0,0,0.7)" stroke-width="1.40"/>
<text x="714.50" y="901.20" font-size="23.40" text-anchor="start" font-weight="normal" >I245P</text>
<text x="712.90" y="930.00" font-size="23.40" text-anchor="start" font-weight="normal" >S243P</text>
<text x="711.80" y="1030.00" font-size="23.40" text-anchor="start" font-weight="normal" >I245A</text>
<text x="470.60" y="1167.60" font-size="23.40" text-anchor="start" font-weight="normal" >R246A</text>
<text x="896.90" y="1204.60" font-size="23.40" text-anchor="start" font-weight="normal" >WT</text>
<text x="290.20" y="1187.10" font-size="23.40" text-anchor="start" font-weight="normal" >I245A+R246A</text>
<text x="290.20" y="1227.80" font-size="23.40" text-anchor="start" font-weight="normal" >I245R+R246I</text>
<text x="291.30" y="1271.80" font-size="23.40" text-anchor="start" font-weight="normal" >R246P</text></svg>
</body></html>
